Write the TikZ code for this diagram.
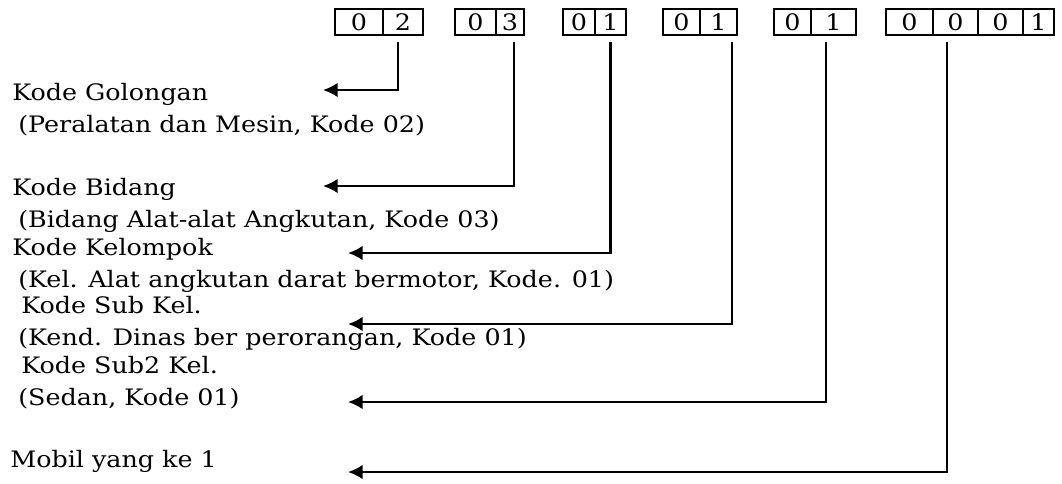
\documentclass[tikz,border=0pt]{standalone}
\usepackage{fontspec}
\setmainfont[FakeStretch=1.12]{DejaVu Serif}
\usetikzlibrary{arrows.meta}

\begin{document}
\begin{tikzpicture}[x=0.75pt,y=-0.75pt]
        \tikzstyle{every node}=[font=\fontsize{17}{20}\selectfont]
        \tikzstyle{cell}=[draw,line width=1.6pt,minimum height=20pt,inner sep=0pt]
        \tikzstyle{label}=[anchor=base west,inner sep=0pt]
        \tikzstyle{link}=[line width=1.8pt,-{Latex[length=11pt,width=11pt]}]
        \useasboundingbox (0,0) rectangle (1062,483);

        % kode barang
        \node[cell,minimum width=36pt] (golA) at (359,22) {0};
        \node[cell,minimum width=30pt] (golB) at (403,22) {2};
        \node[cell,minimum width=30.75pt] (bidA) at (475.5,22) {0};
        \node[cell,minimum width=21pt] (bidB) at (510,22) {3};
        \node[cell,minimum width=24pt] (kelA) at (579,22) {0};
        \node[cell,minimum width=23.25pt] (kelB) at (610.5,22) {1};
        \node[cell,minimum width=27.75pt] (subA) at (681.5,22) {0};
        \node[cell,minimum width=27.75pt] (subB) at (718.5,22) {1};
        \node[cell,minimum width=27.75pt] (subsubA) at (792.5,22) {0};
        \node[cell,minimum width=33.75pt] (subsubB) at (833.5,22) {1};
        \node[cell,minimum width=35.25pt] (regA) at (909.5,22) {0};
        \node[cell,minimum width=33.75pt] (regB) at (955.5,22) {0};
        \node[cell,minimum width=33.75pt] (regC) at (1000.5,22) {0};
        \node[cell,minimum width=23.25pt] (regD) at (1038.5,22) {1};

        % keterangan
        \node[label] (golongan) at (12,100) {Kode Golongan};
        \node[label] (golonganKet) at (18,132) {(Peralatan dan Mesin, Kode 02)};
        \node[label] (bidang) at (12,195) {Kode Bidang};
        \node[label] (bidangKet) at (18,227) {(Bidang Alat-alat Angkutan, Kode 03)};
        \node[label] (kelompok) at (12,255) {Kode Kelompok};
        \node[label] (kelompokKet) at (18,287) {(Kel. Alat angkutan darat bermotor, Kode. 01)};
        \node[label] (subkel) at (21,313) {Kode Sub Kel.};
        \node[label] (subkelKet) at (18,345) {(Kend. Dinas ber perorangan, Kode 01)};
        \node[label] (subsubkel) at (21,373) {Kode Sub2 Kel.};
        \node[label] (subsubkelKet) at (18,405) {(Sedan, Kode 01)};
        \node[label] (register) at (10,467) {Mobil yang ke 1};

        % ujung panah
        \coordinate (golTip) at (323,90);
        \coordinate (bidTip) at (323,186);
        \coordinate (kelTip) at (348,253);
        \coordinate (subTip) at (348,324);
        \coordinate (subsubTip) at (348,402);
        \coordinate (regTip) at (348,472);

        \draw[link] ([xshift=-3.75pt,yshift=-4pt]golB.south) |- (golTip);
        \draw[link] ([xshift=3pt,yshift=-4pt]bidB.south) |- (bidTip);
        \draw[link] ([yshift=-4pt]kelB.south) |- (kelTip);
        \draw[link] ([xshift=10pt,yshift=-4pt]subB.south) |- (subTip);
        \draw[link] ([xshift=-5.6pt,yshift=-4pt]subsubB.south) |- (subsubTip);
        \draw[link] ([xshift=-6.4pt,yshift=-4pt]regB.south) |- (regTip);
    \end{tikzpicture}
\end{document}
